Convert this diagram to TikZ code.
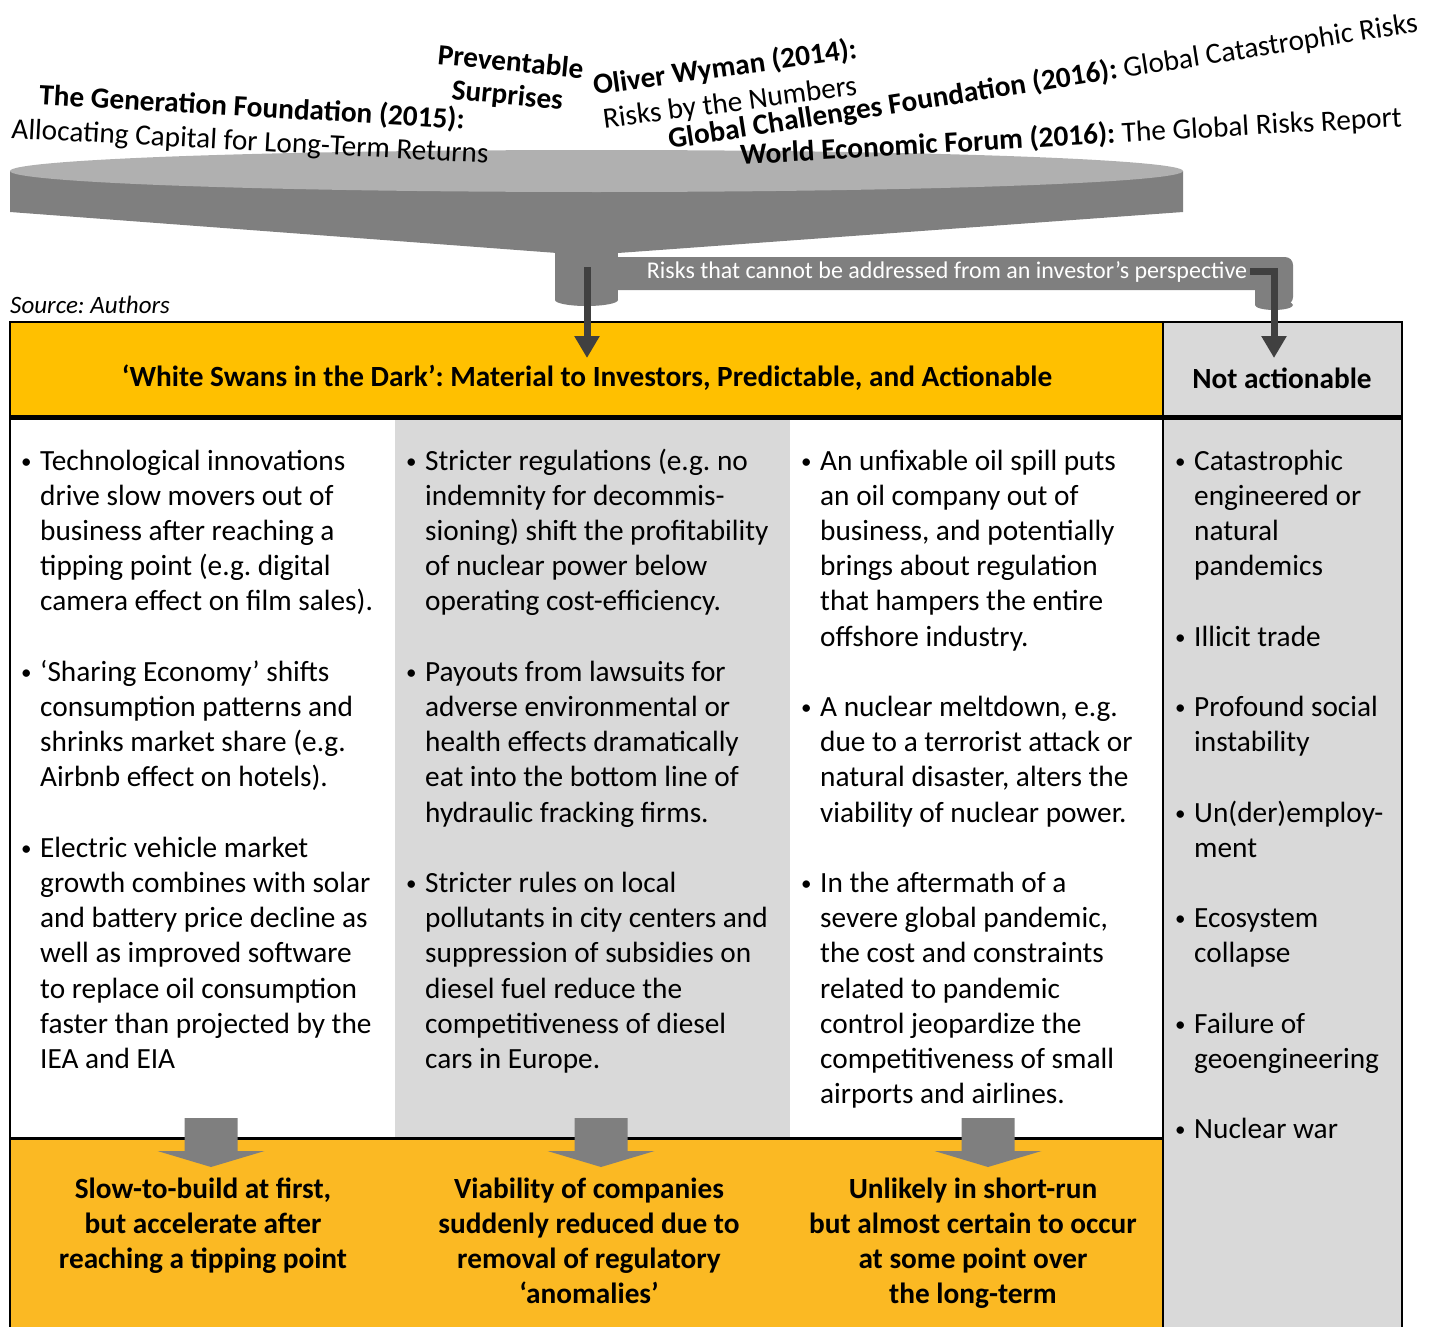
\documentclass[tikz,border=0pt]{standalone}
\usepackage{fontspec}
\setmainfont{Carlito}
\usetikzlibrary{arrows.meta}
\frenchspacing

\definecolor{swanyellow}{HTML}{FFC000}
\definecolor{outcomeyellow}{HTML}{FBB923}
\definecolor{cellgray}{HTML}{D9D9D9}
\definecolor{funneltop}{HTML}{B0B0B0}
\definecolor{funnelside}{HTML}{7F7F7F}
\definecolor{pointer}{HTML}{404040}

\newcommand{\bodysize}{\fontsize{29.3}{35.2}\selectfont}
\newcommand{\itm}{\raisebox{2pt}{\fontsize{21}{21}\selectfont\textbullet} &}

\tikzset{
  cell/.style={anchor=base west, inner sep=0pt, font=\bodysize},
  outcome/.style={anchor=base, inner sep=0pt, font=\bodysize\bfseries},
  headtext/.style={inner sep=0pt, font=\bodysize\bfseries},
  reporttitle/.style={inner sep=0pt, font=\bodysize, align=center},
  pointerline/.style={draw=pointer, line width=7pt, -{Triangle[width=24pt,length=22pt]}},
  blockarrow/.style={fill=funnelside},
  frame/.style={line width=2.5pt},
}

\begin{document}
\begin{tikzpicture}[x=1pt,y=-1pt]
\useasboundingbox (0,0) rectangle (1437,1327);

% funnel
\fill[funnelside] (10,171) -- (10,212) -- (557,253) -- (618,253) -- (1183,212) -- (1183,171) -- cycle;
\fill[funneltop] (596.5,171) ellipse [x radius=586.5, y radius=21];
\fill[funnelside, rounded corners=8pt]
  (600,290) -- (600,257) -- (1293,257) -- (1293,305) [sharp corners] -- (1255,305) -- (1255,290) -- cycle;
\fill[funnelside] (1274,305) ellipse [x radius=19, y radius=5];
\fill[funnelside] (555,245) rectangle (618,300);
\fill[funnelside] (586.5,300) ellipse [x radius=31.5, y radius=6];
\node[inner sep=0pt, text=white, font=\fontsize{24}{28}\selectfont] (pipetxt) at (947,272)
  {Risks that cannot be addressed from an investor’s perspective};

% report titles
\node[reporttitle, rotate=-3.3] (genfdn) at (252,108) {\textbf{The Generation Foundation (2015):}};
\node[reporttitle, rotate=-3] (genrep) at (250,143) {Allocating Capital for Long-Term Returns};
\node[reporttitle, rotate=-5.5] (prevsur) at (509,80) {\textbf{Preventable}\\[-2pt]\textbf{Surprises}};
\node[reporttitle, rotate=8] (wyman) at (725,68) {\textbf{Oliver Wyman (2014):}};
\node[reporttitle, rotate=7.5] (wymanrep) at (730,104) {Risks by the Numbers};
\node[reporttitle, rotate=8.9] (gcf) at (1043,82) {\textbf{Global Challenges Foundation (2016):} Global Catastrophic Risks};
\node[reporttitle, rotate=3.3] (wef) at (1071,137) {\textbf{World Economic Forum (2016):} The Global Risks Report};

\node[anchor=base west, inner sep=0pt, font=\fontsize{25}{30}\selectfont\itshape] (src) at (10,313) {Source: Authors};

% table fills
\fill[swanyellow] (10,322) rectangle (1163,417);
\fill[cellgray] (1163,322) rectangle (1402,1340);
\fill[cellgray] (395,417) rectangle (790,1138);
\fill[outcomeyellow] (10,1138) rectangle (1163,1340);

% table rules
\draw[frame] (10,1340) -- (10,322) -- (1402,322) -- (1402,1340);
\draw[frame] (1163,322) -- (1163,1340);
\draw[line width=5pt] (10,417) -- (1402,417);
\draw[line width=3pt] (10,1138) -- (1163,1138);

\node[headtext] (swanhead) at (587,378) {‘White Swans in the Dark’: Material to Investors, Predictable, and Actionable};
\node[headtext] (nahead) at (1282,378) {Not actionable};

% pointers into the table
\coordinate (spoutout) at (587,267);
\coordinate (swantip) at (587,358);
\draw[pointerline] (spoutout) -- (swantip);
\coordinate (pipeout) at (1250,271);
\coordinate (natip) at (1274,358);
\draw[pointerline] (pipeout) -| (natip);

% columns
\node[cell] (tech) at (21,470) {\begin{tabular}[t]{@{}p{19pt}@{}l@{}}
\itm Technological innovations\\
 & drive slow movers out of\\
 & business after reaching a\\
 & tipping point (e.g. digital\\
 & camera effect on film sales).\\
 & \\
\itm ‘Sharing Economy’ shifts\\
 & consumption patterns and\\
 & shrinks market share (e.g.\\
 & Airbnb effect on hotels).\\
 & \\
\itm Electric vehicle market\\
 & growth combines with solar\\
 & and battery price decline as\\
 & well as improved software\\
 & to replace oil consumption\\
 & faster than projected by the\\
 & IEA and EIA
\end{tabular}};

\node[cell] (regul) at (406,470) {\begin{tabular}[t]{@{}p{19pt}@{}l@{}}
\itm Stricter regulations (e.g. no\\
 & indemnity for decommis-\\
 & sioning) shift the profitability\\
 & of nuclear power below\\
 & operating cost-efficiency.\\
 & \\
\itm Payouts from lawsuits for\\
 & adverse environmental or\\
 & health effects dramatically\\
 & eat into the bottom line of\\
 & hydraulic fracking firms.\\
 & \\
\itm Stricter rules on local\\
 & pollutants in city centers and\\
 & suppression of subsidies on\\
 & diesel fuel reduce the\\
 & competitiveness of diesel\\
 & cars in Europe.
\end{tabular}};

\node[cell] (event) at (801,470) {\begin{tabular}[t]{@{}p{19pt}@{}l@{}}
\itm An unfixable oil spill puts\\
 & an oil company out of\\
 & business, and potentially\\
 & brings about regulation\\
 & that hampers the entire\\
 & offshore industry.\\
 & \\
\itm A nuclear meltdown, e.g.\\
 & due to a terrorist attack or\\
 & natural disaster, alters the\\
 & viability of nuclear power.\\
 & \\
\itm In the aftermath of a\\
 & severe global pandemic,\\
 & the cost and constraints\\
 & related to pandemic\\
 & control jeopardize the\\
 & competitiveness of small\\
 & airports and airlines.
\end{tabular}};

\node[cell] (catas) at (1175,470) {\begin{tabular}[t]{@{}p{19pt}@{}l@{}}
\itm Catastrophic\\
 & engineered or\\
 & natural\\
 & pandemics\\
 & \\
\itm Illicit trade\\
 & \\
\itm Profound social\\
 & instability\\
 & \\
\itm Un(der)employ-\\
 & ment\\
 & \\
\itm Ecosystem\\
 & collapse\\
 & \\
\itm Failure of\\
 & geoengineering\\
 & \\
\itm Nuclear war
\end{tabular}};

% block arrows into the outcome row
\foreach \cx in {211,601,988}
  \fill[blockarrow] ({\cx-26.5},1118) -- ({\cx+26.5},1118) -- ({\cx+26.5},1151) -- ({\cx+53.5},1151)
    -- (\cx,1167) -- ({\cx-53.5},1151) -- ({\cx-26.5},1151) -- cycle;

\node[outcome] (slow) at (203,1198) {\begin{tabular}[t]{@{}c@{}}
Slow-to-build at first,\\ but accelerate after\\ reaching a tipping point\end{tabular}};
\node[outcome] (sudden) at (589,1198) {\begin{tabular}[t]{@{}c@{}}
Viability of companies\\ suddenly reduced due to\\ removal of regulatory\\ ‘anomalies’\end{tabular}};
\node[outcome] (unlikely) at (973,1198) {\begin{tabular}[t]{@{}c@{}}
Unlikely in short-run\\ but almost certain to occur\\ at some point over\\ the long-term\end{tabular}};
\end{tikzpicture}
\end{document}
